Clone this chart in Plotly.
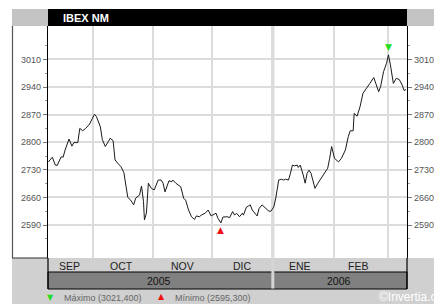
import plotly.graph_objects as go

# ---------------- data ----------------
dates = [
    "2005-09-08 12:00", "2005-09-10 12:00", "2005-09-12", "2005-09-13", "2005-09-15",
    "2005-09-16", "2005-09-17", "2005-09-19", "2005-09-20 12:00", "2005-09-21 12:00",
    "2005-09-23 12:00", "2005-09-24 12:00", "2005-09-26", "2005-09-27 12:00", "2005-09-29 12:00",
    "2005-10-02", "2005-10-03", "2005-10-05", "2005-10-06", "2005-10-07 12:00",
    "2005-10-09", "2005-10-10", "2005-10-11 12:00", "2005-10-12 12:00", "2005-10-14",
    "2005-10-15 12:00", "2005-10-17", "2005-10-18", "2005-10-19", "2005-10-20 12:00",
    "2005-10-22", "2005-10-23", "2005-10-25", "2005-10-26", "2005-10-27",
    "2005-10-27 12:00", "2005-10-28 12:00", "2005-10-29 12:00", "2005-10-30 12:00", "2005-10-31",
    "2005-11-01 12:00", "2005-11-03", "2005-11-03 12:00", "2005-11-05", "2005-11-06",
    "2005-11-07", "2005-11-08", "2005-11-09", "2005-11-10 12:00", "2005-11-11",
    "2005-11-12 12:00", "2005-11-14", "2005-11-15", "2005-11-16 12:00", "2005-11-17 12:00",
    "2005-11-19", "2005-11-20 12:00", "2005-11-22", "2005-11-23", "2005-11-24 12:00",
    "2005-11-25 12:00", "2005-11-27 12:00", "2005-11-29", "2005-11-30 12:00",
    "2005-12-01 12:00", "2005-12-03", "2005-12-04", "2005-12-05 12:00", "2005-12-06 12:00",
    "2005-12-08 12:00", "2005-12-10", "2005-12-11", "2005-12-11 12:00", "2005-12-12 12:00",
    "2005-12-13 12:00", "2005-12-15", "2005-12-16 12:00", "2005-12-17", "2005-12-18 12:00",
    "2005-12-19 12:00", "2005-12-20 12:00", "2005-12-21 12:00", "2005-12-23", "2005-12-24",
    "2005-12-25", "2005-12-26 12:00", "2005-12-28", "2005-12-29", "2005-12-30", "2005-12-31",
    "2006-01-01 12:00", "2006-01-02 12:00", "2006-01-04", "2006-01-05 12:00", "2006-01-06 12:00",
    "2006-01-07 12:00", "2006-01-09", "2006-01-10", "2006-01-11", "2006-01-12",
    "2006-01-13 12:00", "2006-01-14", "2006-01-15", "2006-01-16 12:00", "2006-01-17 12:00",
    "2006-01-18 12:00", "2006-01-19 12:00", "2006-01-20 12:00", "2006-01-22", "2006-01-22 12:00",
    "2006-01-24", "2006-01-25", "2006-01-27 12:00", "2006-01-29", "2006-01-30", "2006-01-31",
    "2006-02-01 12:00", "2006-02-03 12:00", "2006-02-05", "2006-02-07", "2006-02-08 12:00",
    "2006-02-09 12:00", "2006-02-11", "2006-02-11 12:00", "2006-02-13", "2006-02-14 12:00",
    "2006-02-16", "2006-02-18", "2006-02-19 12:00", "2006-02-21 12:00", "2006-02-22 12:00",
    "2006-02-24", "2006-02-25", "2006-02-26 12:00", "2006-02-28",
    "2006-03-01", "2006-03-02", "2006-03-03 12:00", "2006-03-05", "2006-03-06 12:00",
    "2006-03-08", "2006-03-09", "2006-03-10",
]
values = [
    2750, 2762, 2742, 2741, 2763,
    2762, 2780, 2808, 2790, 2799,
    2799, 2835, 2829, 2835, 2846,
    2871, 2865, 2839, 2807, 2789,
    2801, 2810, 2804, 2755, 2746,
    2738, 2723, 2691, 2660, 2653,
    2641, 2658, 2666, 2689, 2650,
    2603, 2620, 2696, 2687, 2683,
    2679, 2696, 2704, 2704, 2696,
    2674, 2687, 2702, 2700, 2704,
    2696, 2691, 2687, 2658, 2653,
    2628, 2611, 2604, 2613, 2611,
    2615, 2620, 2628, 2613,
    2615, 2620, 2607, 2595.3, 2610,
    2611, 2609, 2620, 2624, 2615,
    2620, 2611, 2620, 2615, 2635,
    2638, 2641, 2628, 2620, 2613,
    2632, 2641, 2634, 2628, 2625, 2625,
    2636, 2658, 2704, 2706, 2704,
    2706, 2704, 2721, 2742, 2740,
    2742, 2736, 2742, 2717, 2696,
    2721, 2729, 2721, 2696, 2683,
    2696, 2704, 2722, 2734, 2759, 2789,
    2759, 2750, 2759, 2780, 2814,
    2829, 2829, 2873, 2866, 2890,
    2924, 2937, 2949, 2964, 2951,
    2928, 2941, 2979, 3000,
    3021.4, 2996, 2949, 2962, 2959,
    2945, 2931, 2934,
]

title_text = "IBEX NM"
month_starts = ["2005-10-01", "2005-11-01", "2005-12-01", "2006-01-01", "2006-02-01", "2006-03-01"]
month_names = ["SEP", "OCT", "NOV", "DIC", "ENE", "FEB"]
month_label_dates = ["2005-09-19 12:00", "2005-10-16", "2005-11-16", "2005-12-16 12:00",
                     "2006-01-15", "2006-02-13 12:00"]
year_names = ["2005", "2006"]
year_label_dates = ["2005-11-04", "2006-02-04"]
year_start = "2006-01-01"
y_ticks = [2590, 2660, 2730, 2800, 2870, 2940, 3010]
y_minor = [2555, 2625, 2695, 2765, 2835, 2905, 2975, 3045]
x_range = ["2005-09-08 07:00", "2006-03-10 11:00"]
y_range = [2506.3, 3094.7]
copyright_text = "©Invertia.com"

# ---------------- layout helpers (pixel -> paper) ----------------
W, H = 434, 304
L, R, T, B = 48, 407, 26, 258


def PX(px):
    return (px - L) / (R - L)


def PY(py):
    return (B - py) / (B - T)


imax = values.index(max(values))
imin = values.index(min(values))


def fmt(v):
    return ("%.3f" % v).replace(".", ",")


FONT = "Liberation Sans Narrow, Liberation Sans, Arial, sans-serif"
TICKFONT = dict(family="Liberation Sans, Arial, sans-serif", size=9, color="#555555")

fig = go.Figure()
fig.add_trace(go.Scatter(x=dates, y=values, mode="lines",
                         line=dict(color="#1a1a1a", width=1), hoverinfo="skip",
                         showlegend=False))
fig.add_trace(go.Scatter(x=dates, y=values, mode="lines", yaxis="y2",
                         line=dict(color="rgba(0,0,0,0)", width=0), hoverinfo="skip",
                         showlegend=False))

shapes = []
# bottom gray frame
shapes.append(dict(type="rect", xref="paper", yref="paper", x0=PX(12), x1=PX(W + 5),
                   y0=PY(H + 5), y1=PY(B), fillcolor="#d0d0d0", line=dict(width=0), layer="above"))
# title row
shapes.append(dict(type="rect", xref="paper", yref="paper", x0=PX(12), x1=PX(L),
                   y0=PY(T), y1=PY(9), fillcolor="#c4c4c4", line=dict(width=0)))
shapes.append(dict(type="rect", xref="paper", yref="paper", x0=PX(L), x1=PX(R),
                   y0=PY(T), y1=PY(9), fillcolor="#000000", line=dict(width=0)))
shapes.append(dict(type="rect", xref="paper", yref="paper", x0=PX(R), x1=PX(W + 5),
                   y0=PY(T), y1=PY(9), fillcolor="#c4c4c4", line=dict(width=0)))
# year band
shapes.append(dict(type="rect", xref="paper", yref="paper", x0=PX(L), x1=PX(R),
                   y0=PY(289), y1=PY(272), fillcolor="#808080", line=dict(color="#000000", width=1)))
# year separator in bands
shapes.append(dict(type="line", xref="x", yref="paper", x0=year_start, x1=year_start,
                   y0=PY(B), y1=PY(288.5), line=dict(color="#d4d4d4", width=3)))
# year separator in plot
shapes.append(dict(type="line", xref="x", yref="paper", x0=year_start, x1=year_start,
                   y0=0, y1=1, line=dict(color="#cdcdcd", width=3), layer="between"))
# left frame line
shapes.append(dict(type="line", xref="paper", yref="paper", x0=PX(12.5), x1=PX(12.5),
                   y0=PY(B), y1=PY(T), line=dict(color="#555555", width=1.2)))
shapes.append(dict(type="line", xref="paper", yref="paper", x0=PX(12), x1=PX(L),
                   y0=PY(B), y1=PY(B), line=dict(color="#333333", width=1.2)))
# axis lines extended into bands
for xx in (L, R):
    shapes.append(dict(type="line", xref="paper", yref="paper", x0=PX(xx), x1=PX(xx),
                       y0=PY(289), y1=PY(B), line=dict(color="#000000", width=1.2)))

ann = []
ann.append(dict(text=title_text, xref="paper", yref="paper", x=PX(61), y=PY(17.5),
                xanchor="left", yanchor="middle", showarrow=False,
                font=dict(family=FONT, size=11, color="#ffffff", weight="bold")))
for d, m in zip(month_label_dates, month_names):
    ann.append(dict(text=m, xref="x", yref="paper", x=d, y=PY(265.5), showarrow=False,
                    xanchor="center", yanchor="middle",
                    font=dict(family=FONT, size=10.5, color="#222222")))
for d, yname in zip(year_label_dates, year_names):
    ann.append(dict(text=yname, xref="x", yref="paper", x=d, y=PY(281), showarrow=False,
                    xanchor="center", yanchor="middle",
                    font=dict(family=FONT, size=10.5, color="#111111")))
# max / min markers
ann.append(dict(text="▼", x=dates[imax], y=values[imax], xref="x", yref="y", showarrow=False,
                yshift=8, font=dict(size=9, color="#22dd22", family="DejaVu Sans")))
ann.append(dict(text="▲", x=dates[imin], y=values[imin], xref="x", yref="y", showarrow=False,
                yshift=-7, font=dict(size=9, color="#ee1111", family="DejaVu Sans")))
# footer legend
ann.append(dict(text="▼", xref="paper", yref="paper", x=PX(50), y=PY(297), showarrow=False,
                xanchor="center", yanchor="middle", font=dict(size=8, color="#22dd22", family="DejaVu Sans")))
ann.append(dict(text="Máximo (%s)" % fmt(values[imax]), xref="paper", yref="paper", x=PX(62),
                y=PY(297.5), showarrow=False, xanchor="left", yanchor="middle",
                font=dict(family=FONT, size=9, color="#666666")))
ann.append(dict(text="▲", xref="paper", yref="paper", x=PX(161), y=PY(296.5), showarrow=False,
                xanchor="center", yanchor="middle", font=dict(size=8, color="#ee1111", family="DejaVu Sans")))
ann.append(dict(text="Mínimo (%s)" % fmt(values[imin]), xref="paper", yref="paper", x=PX(173),
                y=PY(297.5), showarrow=False, xanchor="left", yanchor="middle",
                font=dict(family=FONT, size=9, color="#666666")))
ann.append(dict(text=copyright_text, xref="paper", yref="paper", x=PX(377), y=PY(297),
                showarrow=False, xanchor="left", yanchor="middle",
                font=dict(family=FONT, size=12, color="#ffffff")))

yaxis_common = dict(range=y_range, tickmode="array", tickvals=y_ticks, ticks="outside",
                    ticklen=4, tickcolor="#777777", tickfont=TICKFONT,
                    showline=True, linecolor="#000000", linewidth=1.2,
                    zeroline=False, fixedrange=True, automargin=False,
                    minor=dict(tickmode="array", tickvals=y_minor, ticks="outside",
                               ticklen=2, tickcolor="#999999", showgrid=False))

fig.update_layout(
    width=W, height=H,
    margin=dict(l=L, r=W - R, t=T, b=H - B, pad=0, autoexpand=False),
    paper_bgcolor="#ffffff", plot_bgcolor="#ffffff",
    showlegend=False,
    xaxis=dict(type="date", range=x_range, tickmode="array", tickvals=month_starts,
               showticklabels=False, ticks="", showgrid=True, gridcolor="#dcdcdc",
               gridwidth=1.5, showline=True, linecolor="#000000", linewidth=1.2,
               zeroline=False, automargin=False),
    yaxis=dict(side="left", showgrid=True, gridcolor="#dcdcdc", gridwidth=1.5, **yaxis_common),
    yaxis2=dict(side="right", overlaying="y", matches="y", showgrid=False, **yaxis_common),
    shapes=shapes,
    annotations=ann,
)

fig.write_html("out.html", config={"displayModeBar": False},
               post_script="document.body.style.margin='0';document.body.style.overflow='hidden';")
